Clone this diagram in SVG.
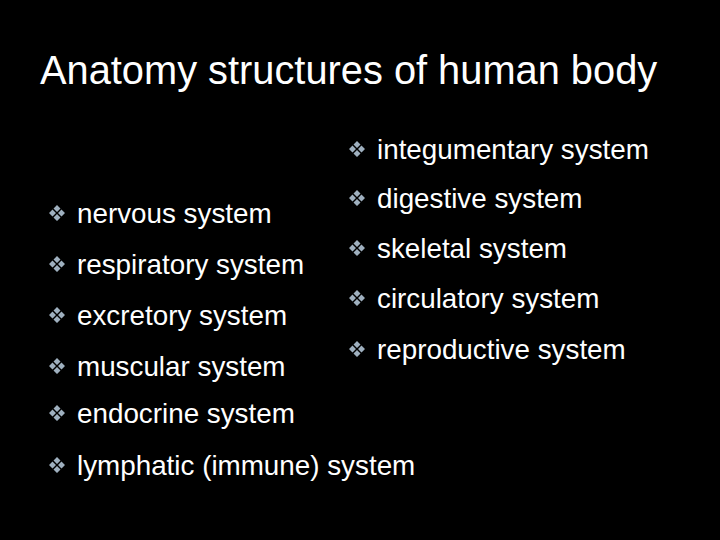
<svg xmlns="http://www.w3.org/2000/svg" xmlns:xlink="http://www.w3.org/1999/xlink" width="720" height="540" viewBox="0 0 720 540">
<style>
text{font-family:"Liberation Sans",Arial,sans-serif;fill:#fff}
.t{font-size:39.8px}
.b{font-size:27.8px}
.d{fill:#9fb0bf}
</style>
<defs>
<g id="bul">
<path class="d" d="M0,-8 l3.5,3.5 -3.5,3.5 -3.5,-3.5z M0,8 l3.5,-3.5 -3.5,-3.5 -3.5,3.5z M-8,0 l3.5,-3.5 3.5,3.5 -3.5,3.5z M8,0 l-3.5,-3.5 -3.5,3.5 3.5,3.5z"/>
</g>
</defs>
<rect width="720" height="540" fill="#000"/>
<text class="t" x="40" y="84">Anatomy structures of human body</text>
<g id="left">
<use href="#bul" x="57" y="213"/><text class="b" x="77" y="223">nervous system</text>
<use href="#bul" x="57" y="264"/><text class="b" x="77" y="274">respiratory system</text>
<use href="#bul" x="57" y="315"/><text class="b" x="77" y="325">excretory system</text>
<use href="#bul" x="57" y="366"/><text class="b" x="77" y="376">muscular system</text>
<use href="#bul" x="57" y="413"/><text class="b" x="77" y="423">endocrine system</text>
<use href="#bul" x="57" y="465"/><text class="b" x="77" y="475">lymphatic (immune) system</text>
</g>
<g id="right">
<use href="#bul" x="357" y="149"/><text class="b" x="377" y="159">integumentary system</text>
<use href="#bul" x="357" y="198"/><text class="b" x="377" y="208">digestive system</text>
<use href="#bul" x="357" y="248"/><text class="b" x="377" y="258">skeletal system</text>
<use href="#bul" x="357" y="298"/><text class="b" x="377" y="308">circulatory system</text>
<use href="#bul" x="357" y="349"/><text class="b" x="377" y="359">reproductive system</text>
</g>
</svg>
